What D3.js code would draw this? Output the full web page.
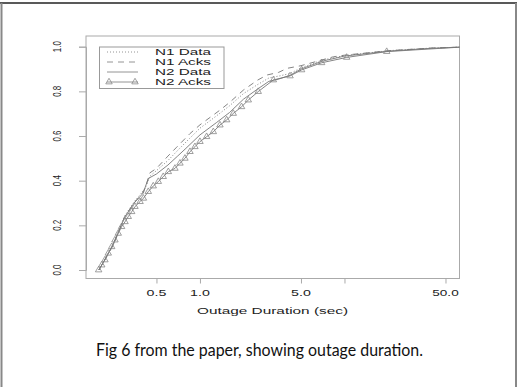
<!DOCTYPE html>
<html>
<head>
<meta charset="utf-8">
<script src="https://cdn.jsdelivr.net/npm/d3@7"></script>
<style>
  body { margin: 0; background: #fff; }
</style>
</head>
<body>
<div id="chart"></div>
<script>
var svgWidth = 518;
var svgHeight = 387;

// ---- data ----
var seriesNames = ["N1 Data", "N1 Acks", "N2 Data", "N2 Acks"];

var n1DataX = [0.2, 0.25, 0.3, 0.35, 0.4, 0.42, 0.45, 0.5, 0.6, 0.7, 0.85, 1.0, 1.3, 1.6, 2.0, 2.5, 3.0, 3.6, 4.2, 5.0, 7.0, 10, 20, 40, 63];
var n1DataY = [0, 0.115, 0.24, 0.305, 0.35, 0.37, 0.42, 0.445, 0.49, 0.535, 0.59, 0.635, 0.69, 0.735, 0.79, 0.83, 0.86, 0.87, 0.88, 0.905, 0.94, 0.96, 0.982, 0.994, 0.998];

var n1AcksX = [0.2, 0.25, 0.3, 0.35, 0.4, 0.42, 0.45, 0.5, 0.6, 0.69, 0.85, 1.0, 1.375, 1.6, 2.0, 2.5, 2.9, 3.5, 4.0, 5.0, 8.4, 10, 20, 40, 63];
var n1AcksY = [0, 0.11, 0.235, 0.3, 0.345, 0.37, 0.435, 0.455, 0.51, 0.55, 0.61, 0.65, 0.716, 0.75, 0.806, 0.85, 0.873, 0.885, 0.903, 0.915, 0.955, 0.962, 0.982, 0.994, 0.998];

var n2DataX = [0.2, 0.25, 0.3, 0.35, 0.406, 0.42, 0.44, 0.5, 0.6, 0.7, 0.8, 1.0, 1.3, 1.6, 2.0, 2.5, 3.0, 3.5, 4.2, 5.0, 7.0, 10, 20, 40, 63];
var n2DataY = [0, 0.11, 0.235, 0.3, 0.345, 0.375, 0.41, 0.43, 0.47, 0.51, 0.545, 0.605, 0.66, 0.705, 0.765, 0.81, 0.845, 0.855, 0.872, 0.9, 0.935, 0.958, 0.98, 0.993, 0.998];

var n2AcksX = [0.199, 0.209, 0.22, 0.232, 0.245, 0.258, 0.272, 0.287, 0.303, 0.319, 0.337, 0.355, 0.385, 0.406, 0.439, 0.475, 0.515, 0.557, 0.604, 0.671, 0.727, 0.787, 0.853, 0.923, 1.0, 1.112, 1.237, 1.375, 1.53, 1.7, 1.94, 2.16, 2.53, 3.22, 4.2, 5.05, 6.95, 10.35, 19.6, 63];
var n2AcksY = [0, 0.022, 0.045, 0.075, 0.104, 0.134, 0.164, 0.194, 0.216, 0.239, 0.261, 0.284, 0.306, 0.321, 0.351, 0.376, 0.396, 0.418, 0.44, 0.455, 0.478, 0.5, 0.53, 0.552, 0.575, 0.597, 0.619, 0.649, 0.672, 0.701, 0.731, 0.761, 0.799, 0.851, 0.869, 0.896, 0.928, 0.952, 0.978, 0.998];
var n2AcksMarkers = 39; // triangles on all but the last point

var xDomain = [0.1627, 62.5];
var yDomain = [0, 1];
var xTicks = [0.5, 1, 5, 10, 50];
var xTickLabels = ["0.5", "1.0", "5.0", "", "50.0"];
var yTicks = [0, 0.2, 0.4, 0.6, 0.8, 1.0];
var yTickLabels = ["0.0", "0.2", "0.4", "0.6", "0.8", "1.0"];

var xTitle = "Outage Duration (sec)";
var caption = "Fig 6 from the paper, showing outage duration.";

// ---- layout ----
var box = { left: 86, right: 459.5, top: 36, bottom: 278.5 };
var font = "'Liberation Sans', Arial, sans-serif";

var svg = d3.select("#chart").append("svg")
  .attr("width", svgWidth)
  .attr("height", svgHeight)
  .attr("font-family", font);

// outer frame of the slide
svg.append("line").attr("x1", 0).attr("x2", 517).attr("y1", 3).attr("y2", 3)
  .attr("stroke", "#222").attr("stroke-width", 1.5);
svg.append("line").attr("x1", 1.5).attr("x2", 1.5).attr("y1", 3).attr("y2", 387)
  .attr("stroke", "#888").attr("stroke-width", 2);
svg.append("line").attr("x1", 516).attr("x2", 516).attr("y1", 3).attr("y2", 387)
  .attr("stroke", "#888").attr("stroke-width", 2);

var x = d3.scaleLog().domain(xDomain).range([box.left, box.right]);
var y = d3.scaleLinear().domain(yDomain).range([270, 46.7]);

// plot box
svg.append("rect")
  .attr("x", box.left).attr("y", box.top)
  .attr("width", box.right - box.left).attr("height", box.bottom - box.top)
  .attr("fill", "none").attr("stroke", "#aaa").attr("stroke-width", 1);

// x axis (R style, below the box)
var xAxis = svg.append("g")
  .attr("transform", `translate(0, ${box.bottom})`)
  .call(d3.axisBottom(x).tickValues(xTicks).tickSize(5).tickFormat(""));
xAxis.select(".domain").remove();
xAxis.selectAll("line").attr("stroke", "#aaa");

svg.selectAll(".xlab")
  .data(xTicks)
  .enter()
  .append("text")
  .attr("x", d => x(d))
  .attr("y", 296)
  .attr("text-anchor", "middle")
  .attr("font-size", "8.5px")
  .attr("fill", "#222")
  .attr("textLength", (d, i) => xTickLabels[i].length * 6.6)
  .attr("lengthAdjust", "spacingAndGlyphs")
  .text((d, i) => xTickLabels[i]);

// y axis
var yAxis = svg.append("g")
  .attr("transform", `translate(${box.left}, 0)`)
  .call(d3.axisLeft(y).tickValues(yTicks).tickSize(7).tickFormat(""));
yAxis.select(".domain").attr("stroke", "#aaa");
yAxis.selectAll("line").attr("stroke", "#aaa");

// rotated labels look squeezed in the original
svg.selectAll(".ylab")
  .data(yTicks)
  .enter()
  .append("text")
  .attr("transform", d => `translate(61, ${y(d)}) rotate(-90)`)
  .attr("text-anchor", "middle")
  .attr("font-size", "10px")
  .attr("fill", "#222")
  .attr("textLength", 11)
  .attr("lengthAdjust", "spacingAndGlyphs")
  .text((d, i) => yTickLabels[i]);

// axis title
svg.append("text")
  .attr("x", 272.5)
  .attr("y", 314)
  .attr("text-anchor", "middle")
  .attr("font-size", "8.5px")
  .attr("fill", "#222")
  .attr("textLength", 151)
  .attr("lengthAdjust", "spacingAndGlyphs")
  .text(xTitle);

// lines
var line = d3.line()
  .x(d => x(d[0]))
  .y(d => y(d[1]));

function pairs(xs, ys) {
  return xs.map((v, i) => [v, ys[i]]);
}

var series = [
  { name: seriesNames[0], pts: pairs(n1DataX, n1DataY), dash: "1,2" },
  { name: seriesNames[1], pts: pairs(n1AcksX, n1AcksY), dash: "6,5" },
  { name: seriesNames[2], pts: pairs(n2DataX, n2DataY), dash: null },
  { name: seriesNames[3], pts: pairs(n2AcksX, n2AcksY), dash: null }
];

svg.append("clipPath").attr("id", "plotclip")
  .append("rect")
  .attr("x", box.left).attr("y", box.top)
  .attr("width", box.right - box.left).attr("height", box.bottom - box.top);

var plot = svg.append("g").attr("clip-path", "url(#plotclip)");

plot.selectAll(".series")
  .data(series)
  .enter()
  .append("path")
  .attr("d", d => line(d.pts))
  .attr("fill", "none")
  .attr("stroke", "#777")
  .attr("stroke-width", 0.9)
  .attr("stroke-dasharray", d => d.dash);

var tri = d3.symbol().type(d3.symbolTriangle).size(18);

plot.selectAll(".tri")
  .data(series[3].pts.slice(0, n2AcksMarkers))
  .enter()
  .append("path")
  .attr("transform", d => `translate(${x(d[0])}, ${y(d[1])})`)
  .attr("d", tri)
  .attr("fill", "none")
  .attr("stroke", "#888")
  .attr("stroke-width", 0.8);

// legend
var legend = svg.append("g");
legend.append("rect")
  .attr("x", 99.5).attr("y", 47)
  .attr("width", 124.5).attr("height", 41.5)
  .attr("fill", "#fff").attr("stroke", "#999").attr("stroke-width", 1);

var legendRows = legend.selectAll(".row")
  .data(series)
  .enter()
  .append("g")
  .attr("transform", (d, i) => `translate(0, ${52 + i * 10})`);

legendRows.append("line")
  .attr("x1", 107).attr("x2", 138)
  .attr("y1", 0).attr("y2", 0)
  .attr("stroke", "#888")
  .attr("stroke-width", 0.9)
  .attr("stroke-dasharray", d => d.dash);

legendRows.filter((d, i) => i === 3)
  .selectAll(".ltri")
  .data([109, 135])
  .enter()
  .append("path")
  .attr("transform", d => `translate(${d}, 0)`)
  .attr("d", tri)
  .attr("fill", "none")
  .attr("stroke", "#888")
  .attr("stroke-width", 0.8);

legendRows.append("text")
  .attr("x", 155)
  .attr("y", 3.2)
  .attr("font-size", "8.8px")
  .attr("fill", "#222")
  .attr("textLength", 56)
  .attr("lengthAdjust", "spacingAndGlyphs")
  .text(d => d.name);

// caption
svg.append("text")
  .attr("x", 259.5)
  .attr("y", 356)
  .attr("text-anchor", "middle")
  .attr("font-family", "Lato, 'Open Sans', sans-serif")
  .attr("font-size", "17px")
  .attr("fill", "#111")
  .attr("textLength", 327)
  .attr("lengthAdjust", "spacingAndGlyphs")
  .text(caption);
</script>
</body>
</html>
